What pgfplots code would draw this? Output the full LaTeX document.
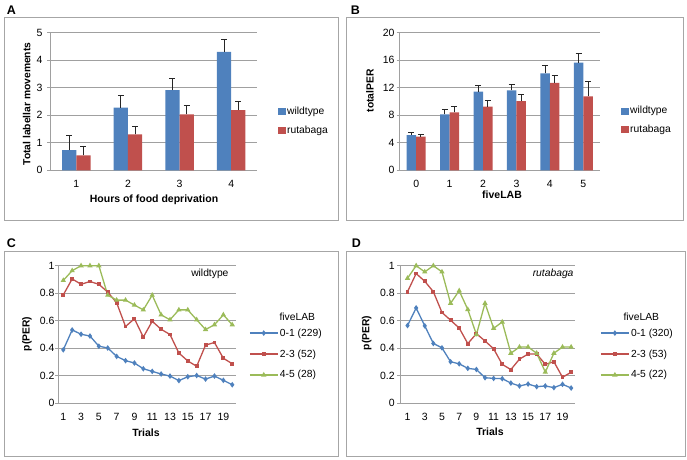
\documentclass[border=0pt]{standalone}
\usepackage{pgfplots}
\pgfplotsset{compat=1.18}
\usepackage{fontspec}
\setmainfont{Liberation Sans}
\definecolor{cblue}{HTML}{4F81BD}
\definecolor{cred}{HTML}{C0504D}
\definecolor{cgreen}{HTML}{9BBB59}
\definecolor{cgrid}{HTML}{A0A0A0}
\definecolor{cbox}{HTML}{A6A6A6}
\pgfplotsset{
  myaxis/.style={
    scale only axis, clip=false,
    axis x line*=bottom, axis y line*=left,
    axis line style={-, cgrid, line width=0.8pt},
    ymajorgrids, grid style={cgrid, line width=0.8pt},
    tick align=outside, major tick length=3pt,
    ytick style={cgrid, line width=0.8pt}, xtick style={draw=none},
    /pgf/number format/assume math mode=true,
    /pgf/number format/fixed,
    tick label style={font=\fontsize{10.5}{12}\selectfont},
    xticklabel style={yshift=-3.5pt},
    legend cell align=left,
    legend style={draw=none, fill=none, font=\fontsize{10.3}{12}\selectfont,
      row sep=7pt, nodes={inner sep=1.5pt}},
  },
  barstyle/.style={
    ybar=0pt,
    legend image code/.code={\fill[##1,/tikz/.cd,draw=none] (0pt,-3.5pt) rectangle (7.5pt,3.5pt);},
  },
  linestyle/.style={
    legend image code/.code={\draw[mark repeat=2,mark phase=2,##1] plot coordinates {(0pt,0pt) (14pt,0pt) (28pt,0pt)};},
    xtick={1,3,...,19}, ymin=0, ymax=1, ytick={0,0.2,0.4,0.6,0.8,1},
    legend style={row sep=9pt},
  },
  errs/.style={error bars/.cd, y dir=plus, y explicit, error mark=-,
    error bar style={line width=1pt, black!85},
    error mark options={rotate=90, line width=1pt, mark size=3pt, black!85}},
}
\begin{document}
\begin{tikzpicture}[font=\fontsize{10.3}{12}\selectfont]
\path (0,0) rectangle (687pt,459pt);
% panel boxes
\draw[cbox, line width=0.8pt] (4pt,442pt) rectangle (338.5pt,238.2pt);
\draw[cbox, line width=0.8pt] (346.7pt,442pt) rectangle (683.5pt,238.2pt);
\draw[cbox, line width=0.8pt] (4pt,208pt) rectangle (338.5pt,2.3pt);
\draw[cbox, line width=0.8pt] (346.2pt,207.5pt) rectangle (685pt,2.3pt);
% panel letters
\node[font=\fontsize{12.5}{14}\selectfont\bfseries] at (11.5pt,449pt) {A};
\node[font=\fontsize{12.5}{14}\selectfont\bfseries] at (355.5pt,449pt) {B};
\node[font=\fontsize{12.5}{14}\selectfont\bfseries] at (11.5pt,216pt) {C};
\node[font=\fontsize{12.5}{14}\selectfont\bfseries] at (356.5pt,216pt) {D};

% ---------- A ----------
\begin{axis}[myaxis, barstyle, at={(50.5pt,288.7pt)}, anchor=south west,
  width=206.5pt, height=137.6pt, xmin=0.5, xmax=4.5, ymin=0, ymax=5,
  ytick={0,1,2,3,4,5}, xtick={1,2,3,4}, bar width=14.3pt,
  yticklabel style={xshift=-1.5pt},
  legend style={at={(1.087,0.359)}, anchor=west}]
\addplot+[draw=none, fill=cblue, errs] coordinates {
 (1,0.73) +- (0,0.55)
 (2,2.28) +- (0,0.43)
 (3,2.91) +- (0,0.43)
 (4,4.30) +- (0,0.45)};
\addlegendentry{wildtype}
\addplot+[draw=none, fill=cred, errs] coordinates {
 (1,0.54) +- (0,0.34)
 (2,1.31) +- (0,0.29)
 (3,2.03) +- (0,0.32)
 (4,2.19) +- (0,0.30)};
\addlegendentry{rutabaga}
\end{axis}
\node[rotate=90, font=\fontsize{10.3}{12}\selectfont\bfseries] at (26.7pt,355pt) {Total labellar movements};
\node[font=\fontsize{10.5}{12}\selectfont\bfseries] at (154pt,259pt) {Hours of food deprivation};

% ---------- B ----------
\begin{axis}[myaxis, barstyle, at={(399.5pt,288.7pt)}, anchor=south west,
  width=200.5pt, height=137.6pt, xmin=-0.5, xmax=5.5, ymin=0, ymax=20,
  ytick={0,4,8,12,16,20}, xtick={0,1,2,3,4,5}, bar width=9.5pt,
  yticklabel style={xshift=1.5pt},
  legend style={at={(1.09,0.362)}, anchor=west}]
\addplot+[draw=none, fill=cblue, errs] coordinates {
 (0,5.13) +- (0,0.39)
 (1,8.14) +- (0,0.67)
 (2,11.43) +- (0,0.92)
 (3,11.62) +- (0,0.92)
 (4,14.09) +- (0,1.21)
 (5,15.64) +- (0,1.31)};
\addlegendentry{wildtype}
\addplot+[draw=none, fill=cred, errs] coordinates {
 (0,4.89) +- (0,0.34)
 (1,8.43) +- (0,0.82)
 (2,9.25) +- (0,0.87)
 (3,10.07) +- (0,0.97)
 (4,12.69) +- (0,1.06)
 (5,10.75) +- (0,2.18)};
\addlegendentry{rutabaga}
\end{axis}
\node[rotate=90, font=\fontsize{10.3}{12}\selectfont\bfseries] at (370pt,368.3pt) {totalPER};
\node[font=\fontsize{10.5}{12}\selectfont\bfseries] at (502pt,264.7pt) {fiveLAB};

% ---------- C ----------
\begin{axis}[myaxis, linestyle, at={(58.4pt,55.7pt)}, anchor=south west,
  width=177.4pt, height=137.6pt, xmin=0.45, xmax=20.4,
  yticklabel style={xshift=2.5pt},
  legend style={at={(1.057,0.358)}, anchor=west}]
\addplot[color=cblue, line width=1.3pt, mark=diamond*, mark size=1.8pt] coordinates {
 (1,0.389) (2,0.533) (3,0.502) (4,0.489) (5,0.415) (6,0.402) (7,0.341) (8,0.310)
 (9,0.293) (10,0.251) (11,0.232) (12,0.213) (13,0.198) (14,0.165) (15,0.193)
 (16,0.202) (17,0.176) (18,0.198) (19,0.167) (20,0.135)};
\addlegendentry{0-1 (229)}
\addplot[color=cred, line width=1.3pt, mark=square*, mark size=1.3pt] coordinates {
 (1,0.788) (2,0.904) (3,0.865) (4,0.885) (5,0.865) (6,0.808) (7,0.731) (8,0.558)
 (9,0.615) (10,0.481) (11,0.596) (12,0.538) (13,0.500) (14,0.365) (15,0.308)
 (16,0.269) (17,0.423) (18,0.442) (19,0.327) (20,0.288)};
\addlegendentry{2-3 (52)}
\addplot[color=cgreen, line width=1.3pt, mark=triangle*, mark size=1.8pt] coordinates {
 (1,0.893) (2,0.964) (3,1.0) (4,1.0) (5,1.0) (6,0.786) (7,0.750) (8,0.750)
 (9,0.714) (10,0.679) (11,0.786) (12,0.643) (13,0.607) (14,0.679) (15,0.679)
 (16,0.607) (17,0.536) (18,0.571) (19,0.643) (20,0.571)};
\addlegendentry{4-5 (28)}
\end{axis}
\node[rotate=90, font=\fontsize{10.3}{12}\selectfont\bfseries] at (27pt,125pt) {p(PER)};
\node[font=\fontsize{10.5}{12}\selectfont\bfseries] at (146pt,26.3pt) {Trials};
\node[anchor=east] at (232pt,185pt) {wildtype};
\node[anchor=west] at (276pt,142.3pt) {fiveLAB};

% ---------- D ----------
\begin{axis}[myaxis, linestyle, at={(400.2pt,55.7pt)}, anchor=south west,
  width=174.8pt, height=137.6pt, xmin=0.15, xmax=20.45,
  yticklabel style={xshift=1pt},
  legend style={at={(1.126,0.358)}, anchor=west}]
\addplot[color=cblue, line width=1.3pt, mark=diamond*, mark size=1.8pt] coordinates {
 (1,0.565) (2,0.693) (3,0.563) (4,0.435) (5,0.403) (6,0.302) (7,0.287) (8,0.254)
 (9,0.246) (10,0.186) (11,0.181) (12,0.179) (13,0.147) (14,0.126) (15,0.140)
 (16,0.121) (17,0.126) (18,0.114) (19,0.138) (20,0.111)};
\addlegendentry{0-1 (320)}
\addplot[color=cred, line width=1.3pt, mark=square*, mark size=1.3pt] coordinates {
 (1,0.811) (2,0.943) (3,0.887) (4,0.811) (5,0.660) (6,0.604) (7,0.547) (8,0.434)
 (9,0.506) (10,0.453) (11,0.396) (12,0.283) (13,0.245) (14,0.321) (15,0.358)
 (16,0.358) (17,0.283) (18,0.302) (19,0.189) (20,0.226)};
\addlegendentry{2-3 (53)}
\addplot[color=cgreen, line width=1.3pt, mark=triangle*, mark size=1.8pt] coordinates {
 (1,0.909) (2,1.0) (3,0.955) (4,1.0) (5,0.955) (6,0.727) (7,0.818) (8,0.682)
 (9,0.500) (10,0.727) (11,0.545) (12,0.591) (13,0.364) (14,0.409) (15,0.409)
 (16,0.364) (17,0.227) (18,0.364) (19,0.409) (20,0.409)};
\addlegendentry{4-5 (22)}
\end{axis}
\node[rotate=90, font=\fontsize{10.3}{12}\selectfont\bfseries] at (366.7pt,126pt) {p(PER)};
\node[font=\fontsize{10.5}{12}\selectfont\bfseries] at (490pt,27pt) {Trials};
\node[anchor=east, font=\fontsize{10.3}{12}\selectfont\itshape] at (577pt,185pt) {rutabaga};
\node[anchor=west] at (620pt,142.3pt) {fiveLAB};
\end{tikzpicture}
\end{document}
